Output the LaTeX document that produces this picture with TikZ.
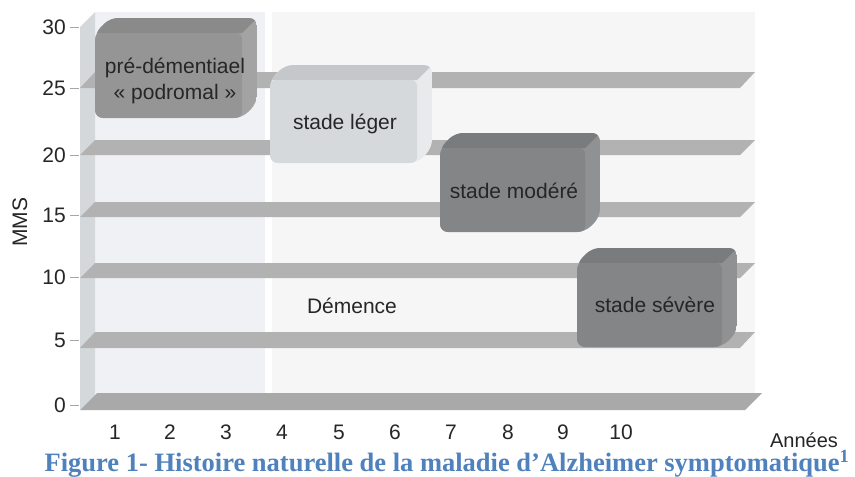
\documentclass[tikz,border=0pt]{standalone}
\usepackage{fontspec}
\setmainfont{Liberation Sans}
\newfontfamily\capfont{Liberation Serif}
\definecolor{wallc}{HTML}{D5D8DA}
\definecolor{backA}{HTML}{F0F1F5}
\definecolor{backB}{HTML}{F6F6F7}
\definecolor{barc}{HTML}{B2B2B2}
\definecolor{barbot}{HTML}{A9A9A9}
\definecolor{capblue}{HTML}{4F81BD}
\definecolor{txt}{HTML}{262626}
\definecolor{b1front}{HTML}{959595}
\definecolor{b1top}{HTML}{8A8A8A}
\definecolor{b1side}{HTML}{A3A3A3}
\definecolor{b2front}{HTML}{D6D9DC}
\definecolor{b2top}{HTML}{C5C8CB}
\definecolor{b2side}{HTML}{E8EAEC}
\definecolor{b3front}{HTML}{848587}
\definecolor{b3top}{HTML}{7A7B7D}
\definecolor{b3side}{HTML}{909193}
\newcommand\blockthree[7]{%
  \begin{scope}
    \clip[rounded corners=8] (#1,{#2+15}) -- ({#1+15},#2) -- (#3,#2) -- (#3,{#4-15}) -- ({#3-15},#4) -- (#1,#4) -- cycle;
    \fill[#7] (#1,#2) rectangle (#3,#4);
    \fill[#6] (#1,{#2+15}) -- ({#1+15},#2) -- (#3,#2) -- ({#3-15},{#2+15}) -- cycle;
    \fill[#5,rounded corners=6] (#1,{#2+15}) rectangle ({#3-15},#4);
  \end{scope}}
\begin{document}
\begin{tikzpicture}[x=1pt,y=-1pt,
  tick/.style={font=\fontsize{21}{24}\selectfont, text=txt, inner sep=0pt},
  boxtxt/.style={font=\fontsize{21}{26}\selectfont, text=txt, align=center, inner sep=0pt},
  dashc/.style={draw=gray!70, line width=0.8pt}]
\useasboundingbox[fill=white] (0,0) rectangle (855,477);
% back wall
\fill[backA] (95,12) rectangle (265,393);
\fill[white] (265,12) rectangle (272,393);
\fill[backB] (272,12) rectangle (755,393);
% left wall
\fill[wallc] (80,27) -- (95,12) -- (95,395) -- (80,410) -- cycle;
% shelves
\foreach \t/\b in {72/88,140/155,202/217,263/278,332/348}{
  \fill[barc] (80,\b) -- (95,\t) -- (755,\t) -- (740,\b) -- cycle;
}
\fill[barbot] (80,410) -- (97,393) -- (762,393) -- (745,410) -- cycle;
% y ticks
\foreach \v/\y in {30/27,25/88,20/155,15/215,10/277,5/340,0/405}{
  \node[tick, anchor=east] (y\v) at (66,\y) {\v};
  \draw[dashc] (70,\y) -- (79,\y);
}
\node[tick, rotate=90] (mms) at (20,222) {MMS};
% x ticks
\foreach \n/\x in {1/115,2/170,3/226,4/282,5/339,6/395,7/451,8/508,9/563,10/621}{
  \node[tick] (x\n) at (\x,432) {\n};
}
\node[tick, font=\fontsize{20}{24}\selectfont] (annees) at (804,440) {Années};
% blocks
\blockthree{95}{18}{257}{118}{b1front}{b1top}{b1side}
\blockthree{270}{65}{432}{163}{b2front}{b2top}{b2side}
\blockthree{440}{133}{600}{232}{b3front}{b3top}{b3side}
\blockthree{577}{248}{737}{347}{b3front}{b3top}{b3side}
\node[boxtxt] (pre) at (175,81) {pré-démentiael\\« podromal »};
\node[boxtxt] (leger) at (345,124) {stade léger};
\node[boxtxt] (modere) at (514,191) {stade modéré};
\node[boxtxt] (severe) at (655,305) {stade sévère};
\node[boxtxt] (dem) at (352,306) {Démence};
% caption
\node[font=\capfont\bfseries\fontsize{26.5}{30}\selectfont, text=capblue, inner sep=0pt] (cap) at (447,464) {Figure 1- Histoire naturelle de la maladie d’Alzheimer symptomatique\textsuperscript{1}};
\end{tikzpicture}
\end{document}
